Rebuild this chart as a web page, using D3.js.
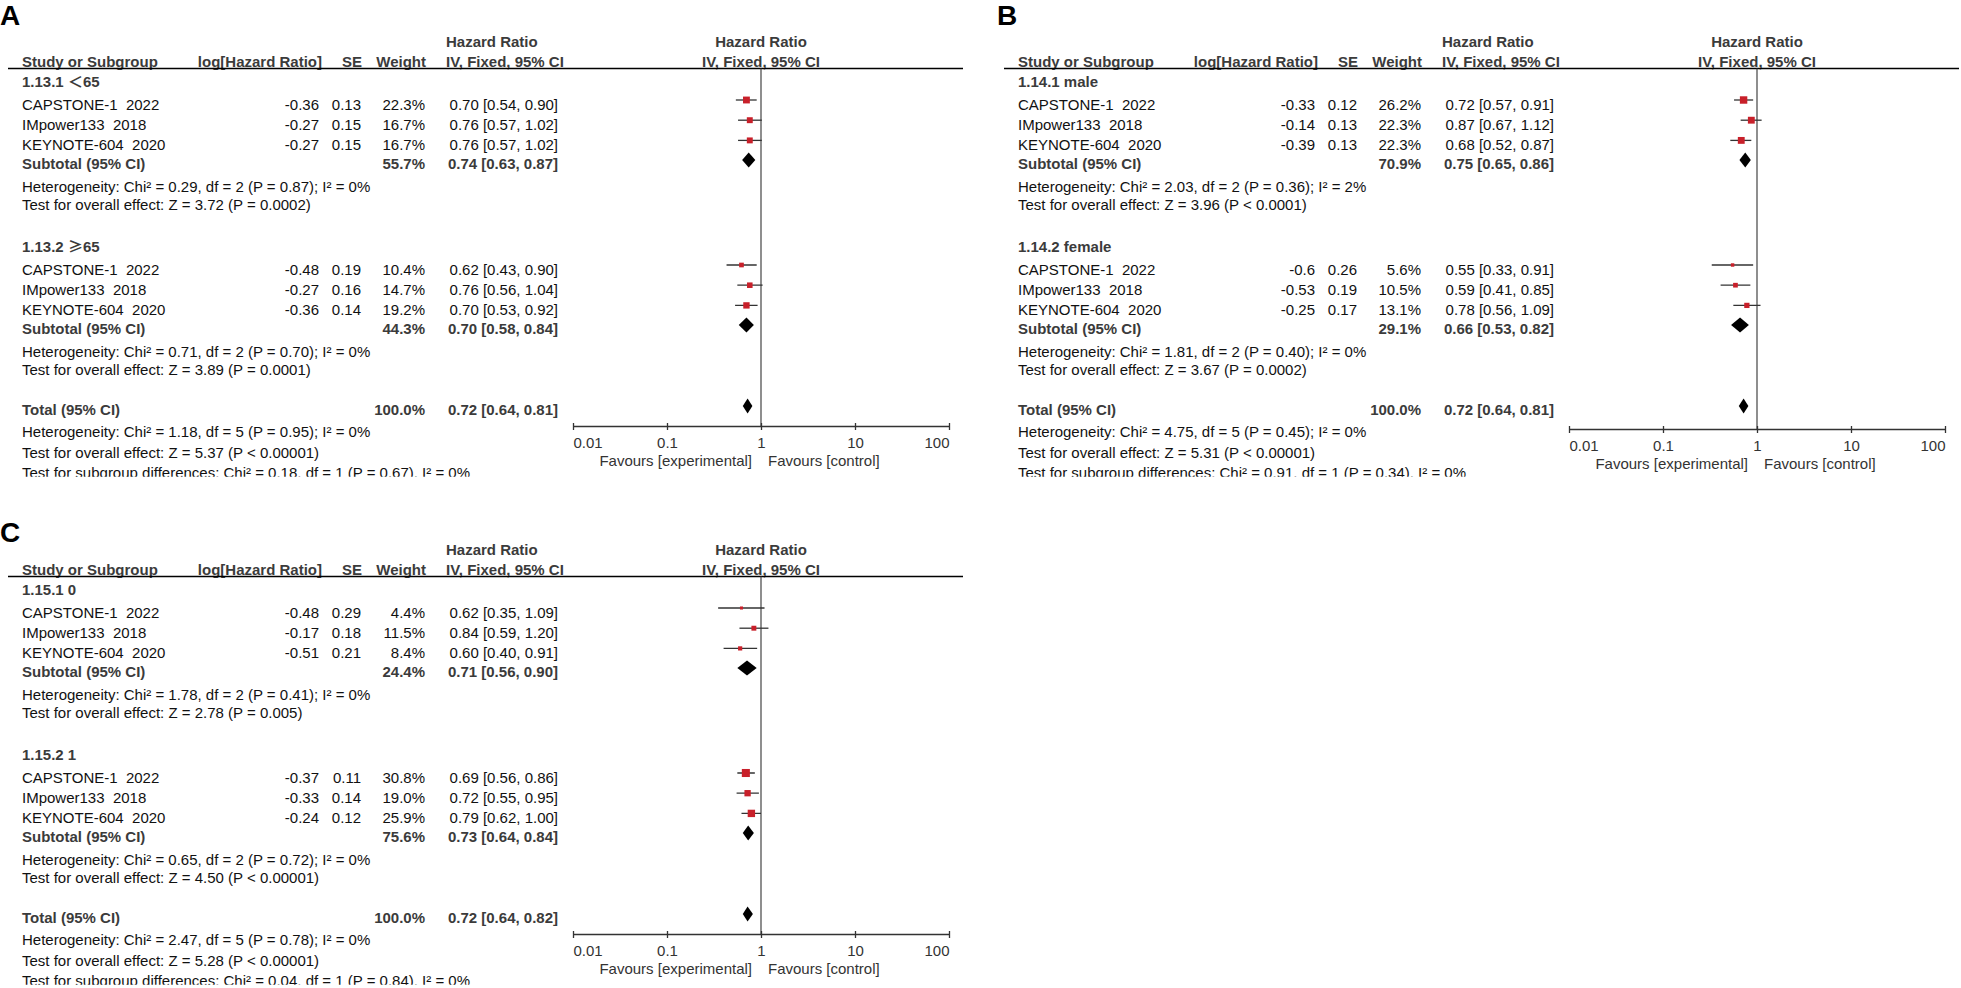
<!DOCTYPE html>
<html>
<head>
<meta charset="utf-8">
<script src="https://cdn.jsdelivr.net/npm/d3@7"></script>
<style>
  body { margin: 0; background: #fff; }
  svg text { font-family: "Liberation Sans", Arial, "Noto Sans CJK SC", sans-serif; font-size: 15px; white-space: pre; }
  .bold { font-weight: bold; fill: #3b3b3b; }
  .norm { fill: #111; }
  .lbl { font-size: 28px; font-weight: bold; fill: #000; }
  .cjk { font-family: "Noto Sans CJK SC", sans-serif; }
</style>
</head>
<body>
<svg id="chart" width="1961" height="988"></svg>
<script>
// ---- data ----
var studies = ["CAPSTONE-1  2022", "IMpower133  2018", "KEYNOTE-604  2020"];
var headerTop = ["Hazard Ratio", "Hazard Ratio"];
var headerCols = ["Study or Subgroup", "log[Hazard Ratio]", "SE", "Weight", "IV, Fixed, 95% CI", "IV, Fixed, 95% CI"];
var tickValues = [0.01, 0.1, 1, 10, 100];
var tickLabels = ["0.01", "0.1", "1", "10", "100"];
var favourLabels = ["Favours [experimental]", "Favours [control]"];

// A: age
var groupsA = ["1.13.1 ＜65", "1.13.2 ≥65"];
var logHrA = [[-0.36, -0.27, -0.27], [-0.48, -0.27, -0.36]];
var seA = [[0.13, 0.15, 0.15], [0.19, 0.16, 0.14]];
var weightA = [[22.3, 16.7, 16.7], [10.4, 14.7, 19.2]];
var hrA = [[[0.70, 0.54, 0.90], [0.76, 0.57, 1.02], [0.76, 0.57, 1.02]],
           [[0.62, 0.43, 0.90], [0.76, 0.56, 1.04], [0.70, 0.53, 0.92]]];
var subWeightA = [55.7, 44.3];
var subHrA = [[0.74, 0.63, 0.87], [0.70, 0.58, 0.84]];
var hetA = ["Heterogeneity: Chi² = 0.29, df = 2 (P = 0.87); I² = 0%", "Heterogeneity: Chi² = 0.71, df = 2 (P = 0.70); I² = 0%"];
var effectA = ["Test for overall effect: Z = 3.72 (P = 0.0002)", "Test for overall effect: Z = 3.89 (P = 0.0001)"];
var totalHrA = [0.72, 0.64, 0.81];
var notesA = ["Heterogeneity: Chi² = 1.18, df = 5 (P = 0.95); I² = 0%",
              "Test for overall effect: Z = 5.37 (P < 0.00001)",
              "Test for subgroup differences: Chi² = 0.18, df = 1 (P = 0.67), I² = 0%"];

// B: sex
var groupsB = ["1.14.1 male", "1.14.2 female"];
var logHrB = [[-0.33, -0.14, -0.39], [-0.6, -0.53, -0.25]];
var seB = [[0.12, 0.13, 0.13], [0.26, 0.19, 0.17]];
var weightB = [[26.2, 22.3, 22.3], [5.6, 10.5, 13.1]];
var hrB = [[[0.72, 0.57, 0.91], [0.87, 0.67, 1.12], [0.68, 0.52, 0.87]],
           [[0.55, 0.33, 0.91], [0.59, 0.41, 0.85], [0.78, 0.56, 1.09]]];
var subWeightB = [70.9, 29.1];
var subHrB = [[0.75, 0.65, 0.86], [0.66, 0.53, 0.82]];
var hetB = ["Heterogeneity: Chi² = 2.03, df = 2 (P = 0.36); I² = 2%", "Heterogeneity: Chi² = 1.81, df = 2 (P = 0.40); I² = 0%"];
var effectB = ["Test for overall effect: Z = 3.96 (P < 0.0001)", "Test for overall effect: Z = 3.67 (P = 0.0002)"];
var totalHrB = [0.72, 0.64, 0.81];
var notesB = ["Heterogeneity: Chi² = 4.75, df = 5 (P = 0.45); I² = 0%",
              "Test for overall effect: Z = 5.31 (P < 0.00001)",
              "Test for subgroup differences: Chi² = 0.91, df = 1 (P = 0.34), I² = 0%"];

// C
var groupsC = ["1.15.1 0", "1.15.2 1"];
var logHrC = [[-0.48, -0.17, -0.51], [-0.37, -0.33, -0.24]];
var seC = [[0.29, 0.18, 0.21], [0.11, 0.14, 0.12]];
var weightC = [[4.4, 11.5, 8.4], [30.8, 19.0, 25.9]];
var hrC = [[[0.62, 0.35, 1.09], [0.84, 0.59, 1.20], [0.60, 0.40, 0.91]],
           [[0.69, 0.56, 0.86], [0.72, 0.55, 0.95], [0.79, 0.62, 1.00]]];
var subWeightC = [24.4, 75.6];
var subHrC = [[0.71, 0.56, 0.90], [0.73, 0.64, 0.84]];
var hetC = ["Heterogeneity: Chi² = 1.78, df = 2 (P = 0.41); I² = 0%", "Heterogeneity: Chi² = 0.65, df = 2 (P = 0.72); I² = 0%"];
var effectC = ["Test for overall effect: Z = 2.78 (P = 0.005)", "Test for overall effect: Z = 4.50 (P < 0.00001)"];
var totalHrC = [0.72, 0.64, 0.82];
var notesC = ["Heterogeneity: Chi² = 2.47, df = 5 (P = 0.78); I² = 0%",
              "Test for overall effect: Z = 5.28 (P < 0.00001)",
              "Test for subgroup differences: Chi² = 0.04, df = 1 (P = 0.84), I² = 0%"];

var panels = [
  { label: "A", x: 0, y: 0, labelY: 25, axisY: 426, groups: groupsA, logHr: logHrA, se: seA, weight: weightA, hr: hrA, subWeight: subWeightA, subHr: subHrA, het: hetA, effect: effectA, totalHr: totalHrA, notes: notesA },
  { label: "B", x: 996, y: 0, labelY: 25, axisY: 429, groups: groupsB, logHr: logHrB, se: seB, weight: weightB, hr: hrB, subWeight: subWeightB, subHr: subHrB, het: hetB, effect: effectB, totalHr: totalHrB, notes: notesB },
  { label: "C", x: 0, y: 508, labelY: 34, axisY: 426, groups: groupsC, logHr: logHrC, se: seC, weight: weightC, hr: hrC, subWeight: subWeightC, subHr: subHrC, het: hetC, effect: effectC, totalHr: totalHrC, notes: notesC }
];

// ---- drawing ----
var svg = d3.select("#chart");
var x = d3.scaleLog().domain([0.01, 100]).range([573, 949]);

function fmtHr(v) {
  return v[0].toFixed(2) + " [" + v[1].toFixed(2) + ", " + v[2].toFixed(2) + "]";
}

function txt(g, str, px, py, anchor, cls) {
  return g.append("text").attr("x", px).attr("y", py)
    .attr("text-anchor", anchor || "start").attr("class", cls || "norm").text(str);
}

// subgroup names: the comparison signs come from a CJK font in the original
function groupLabel(g, str, px, py) {
  var t = g.append("text").attr("x", px).attr("y", py).attr("class", "bold");
  str.split(/([＜≥])/).forEach(function(part) {
    if (!part) return;
    var s = t.append("tspan").text(part);
    if (part == "＜" || part == "≥") s.attr("class", "cjk");
  });
}

function diamond(g, v, cy) {
  var h = 7.5;
  g.append("path")
    .attr("d", "M" + x(v[1]) + "," + cy + "L" + x(v[0]) + "," + (cy - h) +
               "L" + x(v[2]) + "," + cy + "L" + x(v[0]) + "," + (cy + h) + "Z")
    .attr("fill", "#000");
}

panels.forEach(function(p, i) {
  var axisY = p.axisY;
  svg.append("text").attr("class", "lbl").attr("x", i == 1 ? 997 : p.x).attr("y", p.y + p.labelY).text(p.label);

  svg.append("clipPath").attr("id", "clip" + i)
    .append("rect").attr("x", -5).attr("y", -5).attr("width", 975).attr("height", 481.8);

  var g = svg.append("g")
    .attr("transform", "translate(" + p.x + "," + p.y + ")")
    .attr("clip-path", "url(#clip" + i + ")");

  // headers
  txt(g, headerTop[0], 446, 47, "start", "bold");
  txt(g, headerTop[1], 761, 47, "middle", "bold");
  txt(g, headerCols[0], 22, 67, "start", "bold");
  txt(g, headerCols[1], 322, 67, "end", "bold");
  txt(g, headerCols[2], 362, 67, "end", "bold");
  txt(g, headerCols[3], 426, 67, "end", "bold");
  txt(g, headerCols[4], 446, 67, "start", "bold");
  txt(g, headerCols[5], 761, 67, "middle", "bold");
  g.append("line").attr("x1", 8).attr("x2", 963).attr("y1", 68.5).attr("y2", 68.5)
    .attr("stroke", "#000").attr("stroke-width", 1.4);

  // null line
  g.append("line").attr("x1", x(1)).attr("x2", x(1)).attr("y1", 68.5).attr("y2", axisY)
    .attr("stroke", "#444").attr("stroke-width", 1.2);

  p.groups.forEach(function(name, gi) {
    var base = 87 + gi * 165;
    groupLabel(g, name, 22, base);

    studies.forEach(function(s, j) {
      var yy = base + 23 + j * 20.2;
      var v = p.hr[gi][j];
      txt(g, s, 22, yy);
      txt(g, String(p.logHr[gi][j]), 319, yy, "end");
      txt(g, String(p.se[gi][j]), 361, yy, "end");
      txt(g, p.weight[gi][j].toFixed(1) + "%", 425, yy, "end");
      txt(g, fmtHr(v), 558, yy, "end");

      var cy = yy - 10;
      g.append("line").attr("x1", x(v[1])).attr("x2", x(v[2])).attr("y1", cy).attr("y2", cy)
        .attr("stroke", "#333").attr("stroke-width", 1.3);
      var side = 1.45 * Math.sqrt(p.weight[gi][j]);
      g.append("rect").attr("x", x(v[0]) - side / 2).attr("y", cy - side / 2)
        .attr("width", side).attr("height", side).attr("fill", "#c8202a");
    });

    var sy = base + 82;
    txt(g, "Subtotal (95% CI)", 22, sy, "start", "bold");
    txt(g, p.subWeight[gi].toFixed(1) + "%", 425, sy, "end", "bold");
    txt(g, fmtHr(p.subHr[gi]), 558, sy, "end", "bold");
    diamond(g, p.subHr[gi], sy - 9);

    txt(g, p.het[gi], 22, base + 105);
    txt(g, p.effect[gi], 22, base + 123);
  });

  // total
  txt(g, "Total (95% CI)", 22, 415, "start", "bold");
  txt(g, "100.0%", 425, 415, "end", "bold");
  txt(g, fmtHr(p.totalHr), 558, 415, "end", "bold");
  diamond(g, p.totalHr, 406);
  txt(g, p.notes[0], 22, 437);
  txt(g, p.notes[1], 22, 458);
  txt(g, p.notes[2], 22, 477.5);

  // axis
  var ax = g.append("g").attr("transform", "translate(0," + axisY + ")")
    .call(d3.axisBottom(x).tickValues(tickValues)
      .tickFormat(function(d, k) { return tickLabels[k]; })
      .tickSizeOuter(0).tickSizeInner(4));
  ax.select(".domain").attr("stroke", "#333").attr("stroke-width", 1.3);
  ax.selectAll(".tick line").attr("y1", -3).attr("y2", 4).attr("stroke", "#333").attr("stroke-width", 1.3);
  ax.selectAll(".tick text")
    .attr("y", 22).attr("dy", 0)
    .attr("fill", "#333")
    .style("font-size", "15px")
    .attr("font-family", null)
    .attr("text-anchor", function(d, k) { return k == 0 ? "start" : (k == tickValues.length - 1 ? "end" : "middle"); });

  g.append("text").attr("x", 752).attr("y", axisY + 40).attr("text-anchor", "end").attr("fill", "#333").text(favourLabels[0]);
  g.append("text").attr("x", 768).attr("y", axisY + 40).attr("text-anchor", "start").attr("fill", "#333").text(favourLabels[1]);
});
</script>
</body>
</html>
